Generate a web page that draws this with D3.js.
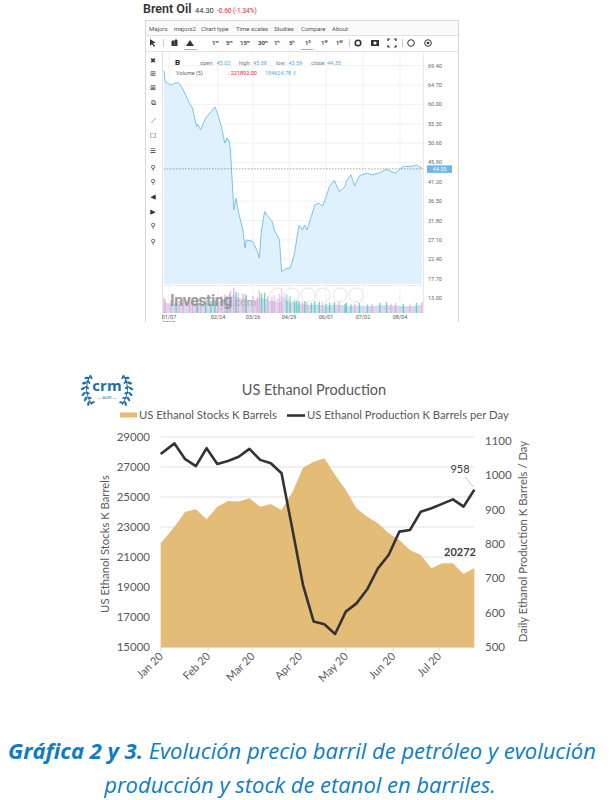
<!DOCTYPE html>
<html>
<head>
<meta charset="utf-8">
<script src="https://cdn.jsdelivr.net/npm/d3@7"></script>
<style>
  body { margin: 0; background: #fff; }
  svg { display: block; }
</style>
</head>
<body>
<svg id="chart" width="611" height="800"></svg>
<script>
// ---- Brent oil (Investing.com screenshot) ----
var brentDates = ["2020-01-02","2020-01-03","2020-01-09","2020-01-14","2020-01-17","2020-01-21","2020-01-27","2020-01-30",
  "2020-02-03","2020-02-04","2020-02-07","2020-02-12","2020-02-17","2020-02-21","2020-02-24","2020-02-27",
  "2020-03-01","2020-03-03","2020-03-05","2020-03-06","2020-03-09","2020-03-11","2020-03-13","2020-03-17","2020-03-19","2020-03-20","2020-03-26","2020-03-30",
  "2020-04-01","2020-04-03","2020-04-06","2020-04-09","2020-04-13","2020-04-15","2020-04-20","2020-04-22","2020-04-27","2020-04-30",
  "2020-05-04","2020-05-06","2020-05-08","2020-05-11","2020-05-13","2020-05-15","2020-05-19","2020-05-22","2020-05-26","2020-05-29",
  "2020-06-01","2020-06-04","2020-06-08","2020-06-12","2020-06-17","2020-06-18","2020-06-22","2020-06-25","2020-06-29",
  "2020-07-06","2020-07-10","2020-07-17","2020-07-23","2020-07-27","2020-07-31",
  "2020-08-07","2020-08-13","2020-08-19","2020-08-24"];
var brentClose = [68.2,65.5,64.7,65.3,65.1,63.5,60.3,59.1,
  54.6,55.2,53.8,56.7,58.2,59.4,57.4,54.6,
  50.6,51.8,50.9,48.9,34.4,37.2,34.0,29.5,25.1,27.1,26.7,24.3,
  22.7,29.5,34.0,32.8,31.6,29.5,27.1,19.4,20.2,20.2,
  23.9,27.5,30.7,29.5,30.7,29.5,32.8,35.6,36.0,35.2,
  37.6,40.1,41.6,38.8,40.1,41.4,42.9,40.2,42.7,
  43.3,42.9,43.4,44.3,43.7,43.3,
  45.0,44.9,45.3,44.5];
// volume, thousands of contracts
var brentVolume = [180,160,150,140,150,170,190,160,
  170,150,160,150,140,150,170,200,
  220,200,230,260,300,250,240,230,220,210,200,180,
  260,230,240,200,190,210,230,290,220,200,
  160,150,140,130,140,130,120,140,130,120,
  110,120,130,140,110,120,100,110,120,
  100,110,120,130,110,120,
  110,100,120,130];
var brentPriceTicks = [69.40,64.70,60.00,55.30,50.60,45.90,41.20,36.50,31.80,27.10,22.40,17.70,13.00];
var brentDateTicks = ["2020-01-07","2020-02-24","2020-03-26","2020-04-29","2020-06-01","2020-07-02","2020-08-04"];
var brentDateLabels = ["01/07","02/24","03/26","04/29","06/01","07/02","08/04"];
var brentLast = 44.35;

// ---- US ethanol (weekly) ----
var ethanolDates = ["2020-01-01","2020-01-10","2020-01-17","2020-01-24","2020-01-31","2020-02-07","2020-02-14","2020-02-21","2020-02-28",
  "2020-03-06","2020-03-13","2020-03-20","2020-03-27","2020-04-03","2020-04-10","2020-04-17","2020-04-24",
  "2020-05-01","2020-05-08","2020-05-15","2020-05-22","2020-05-29","2020-06-05","2020-06-12","2020-06-19","2020-06-26",
  "2020-07-03","2020-07-10","2020-07-17","2020-07-24"];
var ethanolStocks = [21910,23020,24020,24180,23510,24350,24730,24700,24910,
  24350,24530,24130,25300,26950,27350,27580,26470,
  25470,24250,23690,23250,22580,22130,21470,21130,20250,
  20580,20580,19870,20272];
var ethanolProduction = [1062,1093,1047,1027,1079,1033,1042,1054,1077,
  1045,1035,1006,845,681,574,566,538,
  603,627,668,729,768,836,841,894,904,
  917,930,909,958];
var stockTicks = [15000,17000,19000,21000,23000,25000,27000,29000];
var productionTicks = [500,600,700,800,900,1000,1100];
var monthTicks = ["2020-01-01","2020-02-01","2020-03-01","2020-04-01","2020-05-01","2020-06-01","2020-07-01"];

var parse = d3.utcParse("%Y-%m-%d");
var svg = d3.select("#chart");
svg.append("rect").attr("width", 611).attr("height", 800).attr("fill", "#fff");

// =============== Top: Brent oil screenshot ===============
svg.append("defs").append("clipPath").attr("id", "shotclip")
  .append("rect").attr("x", 140).attr("y", 0).attr("width", 322).attr("height", 322);
var shot = svg.append("g").attr("font-family", "Roboto, 'Liberation Sans', sans-serif")
  .attr("clip-path", "url(#shotclip)");

shot.append("text").attr("x", 143).attr("y", 13).attr("font-size", 12.5).attr("font-weight", 600)
  .attr("fill", "#333").text("Brent Oil");
shot.append("text").attr("x", 195).attr("y", 12.5).attr("font-size", 7.5).attr("fill", "#333").text("44.30");
shot.append("text").attr("x", 217).attr("y", 12.5).attr("font-size", 6.5).attr("fill", "#e0262b").text("-0.60 (-1.34%)");

// widget frame
shot.append("rect").attr("x", 145.5).attr("y", 20.5).attr("width", 313).attr("height", 320)
  .attr("fill", "#fff").attr("stroke", "#d8d8d8");
shot.append("rect").attr("x", 146).attr("y", 21).attr("width", 312).attr("height", 14).attr("fill", "#fafafa");
shot.append("line").attr("x1", 146).attr("x2", 458).attr("y1", 35.5).attr("y2", 35.5).attr("stroke", "#e2e2e2");
shot.append("line").attr("x1", 146).attr("x2", 458).attr("y1", 51.5).attr("y2", 51.5).attr("stroke", "#e2e2e2");
shot.append("line").attr("x1", 162.5).attr("x2", 162.5).attr("y1", 52).attr("y2", 340).attr("stroke", "#e2e2e2");

var menu = [["Majors",149],["majors2",174],["Chart type",201],["Time scales",236],["Studies",274],["Compare",301],["About",332]];
shot.selectAll("text.menu").data(menu).enter().append("text").attr("class", "menu")
  .attr("x", d => d[1]).attr("y", 30.5).attr("font-size", 6).attr("fill", "#555").text(d => d[0]);

// toolbar row
var scales = [["1","m",212],["5","m",226],["15","m",240],["30","m",258],["1","h",274],["5","h",289],["1","D",305],["1","W",321],["1","M",336]];
scales.forEach(function (s) {
  var t = shot.append("text").attr("x", s[2]).attr("y", 45).attr("font-size", 6).attr("font-weight", 600).attr("fill", "#333");
  t.append("tspan").text(s[0]);
  t.append("tspan").attr("font-size", 3.5).attr("dy", -2.5).text(s[1]);
});
shot.append("path").attr("d", "M150,39 l0,7 l2,-2 l2,3 l1,-1 l-2,-3 l3,0 z").attr("fill", "#333");
shot.append("line").attr("x1", 163.5).attr("x2", 163.5).attr("y1", 39).attr("y2", 47).attr("stroke", "#ccc");
shot.append("path").attr("d", "M172,46 l0,-5 l2,0 l0,5 M175,46 l0,-6 l2,0 l0,6").attr("stroke", "#333").attr("fill", "#333");
shot.append("path").attr("d", "M186,46 l4,-6 l4,6 z").attr("fill", "#333");
shot.append("line").attr("x1", 184).attr("x2", 197).attr("y1", 49.5).attr("y2", 49.5).attr("stroke", "#f5a623").attr("stroke-width", 1);
shot.append("line").attr("x1", 301).attr("x2", 313).attr("y1", 49.5).attr("y2", 49.5).attr("stroke", "#f5a623").attr("stroke-width", 1);
shot.append("line").attr("x1", 349.5).attr("x2", 349.5).attr("y1", 39).attr("y2", 47).attr("stroke", "#ccc");
shot.append("circle").attr("cx", 358).attr("cy", 43).attr("r", 2.8).attr("fill", "none").attr("stroke", "#333").attr("stroke-width", 1.6);
shot.append("rect").attr("x", 371).attr("y", 40).attr("width", 8).attr("height", 6).attr("fill", "#333");
shot.append("circle").attr("cx", 375).attr("cy", 43).attr("r", 1.6).attr("fill", "#fff");
shot.append("path").attr("d", "M388,41 l0,-2 l2,0 M394,39 l2,0 l0,2 M396,45 l0,2 l-2,0 M390,47 l-2,0 l0,-2")
  .attr("fill", "none").attr("stroke", "#333").attr("stroke-width", 1.2);
shot.append("line").attr("x1", 402.5).attr("x2", 402.5).attr("y1", 39).attr("y2", 47).attr("stroke", "#ccc");
shot.append("circle").attr("cx", 411).attr("cy", 43).attr("r", 3.3).attr("fill", "none").attr("stroke", "#333");
shot.append("circle").attr("cx", 428).attr("cy", 43).attr("r", 3.3).attr("fill", "none").attr("stroke", "#333");
shot.append("circle").attr("cx", 428).attr("cy", 43).attr("r", 1.3).attr("fill", "#333");

// left drawing toolbar
var tools = ["✖","⊞","⊠","⧉","⟋","☐","☰","⚲","⚲","◀","▶","⚲","⚲"];
var toolY = [60,73,87,102,120,135,150,167,181,196,211,225,241];
shot.selectAll("text.tool").data(tools).enter().append("text").attr("class", "tool")
  .attr("x", 153).attr("y", (d, i) => toolY[i] + 3).attr("text-anchor", "middle")
  .attr("font-family", "'DejaVu Sans', sans-serif").attr("font-size", 7).attr("fill", "#333").text(d => d);

// plot scales (trading-day spacing, so the time axis is piecewise)
var xB = d3.scaleUtc()
  .domain(["2020-01-02","2020-01-07","2020-02-24","2020-03-26","2020-04-29","2020-06-01","2020-07-02","2020-08-04","2020-08-24"].map(parse))
  .range([164, 169, 218, 253, 289, 326, 363, 400, 422]);
var yB = d3.scaleLinear().domain([13, 69.4]).range([298, 65.7]);
var yV = d3.scaleLinear().domain([0, 320]).range([313, 286]);

var brent = brentDates.map((d, i) => ({ date: parse(d), close: brentClose[i], vol: brentVolume[i] }));

// grid
shot.selectAll("line.vg").data(brentDateTicks).enter().append("line").attr("class", "vg")
  .attr("x1", d => xB(parse(d))).attr("x2", d => xB(parse(d))).attr("y1", 53).attr("y2", 313)
  .attr("stroke", "#f1f1f1");
shot.selectAll("line.hg").data(brentPriceTicks.filter(v => v > 15)).enter().append("line").attr("class", "hg")
  .attr("x1", 164).attr("x2", 423).attr("y1", d => yB(d)).attr("y2", d => yB(d)).attr("stroke", "#f1f1f1");

shot.append("path").datum(brent)
  .attr("d", d3.area().x(d => xB(d.date)).y0(284).y1(d => yB(d.close)))
  .attr("fill", "#dff1fc");
shot.append("path").datum(brent)
  .attr("d", d3.line().x(d => xB(d.date)).y(d => yB(d.close)))
  .attr("fill", "none").attr("stroke", "#7cc2f0").attr("stroke-width", 1);

// last price dotted line and tag
shot.append("line").attr("x1", 164).attr("x2", 423).attr("y1", yB(brentLast)).attr("y2", yB(brentLast))
  .attr("stroke", "#666").attr("stroke-width", 0.6).attr("stroke-dasharray", "1.5,1.5");
shot.append("rect").attr("x", 427).attr("y", yB(brentLast) - 3.5).attr("width", 25).attr("height", 7.5).attr("fill", "#6db6ee");
shot.append("text").attr("x", 439.5).attr("y", yB(brentLast) + 2).attr("text-anchor", "middle")
  .attr("font-size", 5.5).attr("fill", "#fff").text(brentLast.toFixed(2));

// price axis labels
shot.selectAll("text.pt").data(brentPriceTicks).enter().append("text").attr("class", "pt")
  .attr("x", 428).attr("y", d => yB(d) + 2).attr("font-size", 5.5).attr("fill", "#666").text(d => d.toFixed(2));

// volume panel
shot.append("line").attr("x1", 164).attr("x2", 423).attr("y1", 285.5).attr("y2", 285.5).attr("stroke", "#ececec");
shot.append("path").datum(brent)
  .attr("d", d3.area().curve(d3.curveBasis).x(d => xB(d.date)).y0(313).y1(d => yV(d.vol * 0.75)))
  .attr("fill", "#b8b6ea").attr("opacity", 0.55);
shot.selectAll("rect.vol").data(brent).enter().append("rect").attr("class", "vol")
  .attr("x", d => xB(d.date) - 0.7).attr("width", 1.4)
  .attr("y", d => yV(d.vol)).attr("height", d => 313 - yV(d.vol))
  .attr("fill", (d, i) => i > 0 && d.close >= brent[i - 1].close ? "#45d3b0" : "#e9a6cf")
  .attr("opacity", 0.8);
var wm = shot.append("text").attr("x", 170).attr("y", 306).attr("fill", "#8f8f8f").attr("opacity", 0.85);
wm.append("tspan").attr("font-size", 16).attr("font-weight", 700).attr("letter-spacing", -0.5).text("Investing");
wm.append("tspan").attr("font-size", 11).attr("fill", "#aaa").text(".com");
[277, 292, 308, 323, 340, 356].forEach(function (cx) {
  shot.append("circle").attr("cx", cx).attr("cy", 295).attr("r", 7).attr("fill", "#fff").attr("fill-opacity", 0.3)
    .attr("stroke", "#e6e6e6");
});
shot.append("line").attr("x1", 423.5).attr("x2", 423.5).attr("y1", 53).attr("y2", 313).attr("stroke", "#e8e8e8");

// date labels
shot.selectAll("text.dt").data(brentDateTicks).enter().append("text").attr("class", "dt")
  .attr("x", d => xB(parse(d))).attr("y", 319).attr("text-anchor", "middle")
  .attr("font-size", 5.5).attr("fill", "#555").text((d, i) => brentDateLabels[i]);
shot.append("text").attr("x", 169).attr("y", 324.5).attr("text-anchor", "middle").attr("font-size", 5.5)
  .attr("fill", "#555").text("2020");

// info header inside plot
var info = shot.append("text").attr("y", 64.5).attr("font-size", 5.5).attr("fill", "#777");
info.append("tspan").attr("x", 175).attr("font-size", 8).attr("font-weight", 700).attr("fill", "#222").text("B");
info.append("tspan").attr("x", 200).text("open:");
info.append("tspan").attr("x", 216.5).attr("fill", "#5aa9e6").text("45.03");
info.append("tspan").attr("x", 239).text("high:");
info.append("tspan").attr("x", 253).attr("fill", "#5aa9e6").text("45.08");
info.append("tspan").attr("x", 276).text("low:");
info.append("tspan").attr("x", 288.5).attr("fill", "#5aa9e6").text("43.59");
info.append("tspan").attr("x", 311).text("close:");
info.append("tspan").attr("x", 327).attr("fill", "#5aa9e6").text(brentLast.toFixed(2));
var vinfo = shot.append("text").attr("y", 75).attr("font-size", 5.5).attr("fill", "#666");
vinfo.append("tspan").attr("x", 176).text("Volume (5)");
vinfo.append("tspan").attr("x", 228).attr("fill", "#e0262b").text(": 221892.00");
vinfo.append("tspan").attr("x", 265).attr("fill", "#5aa9e6").text("184624.78");
vinfo.append("tspan").attr("x", 294).attr("fill", "#444").text("|");

// =============== Bottom: US ethanol ===============
var bot = svg.append("g").attr("font-family", "Lato, 'Open Sans', sans-serif");
var xE = d3.scaleUtc().domain([parse(ethanolDates[0]), parse(ethanolDates[ethanolDates.length - 1])]).range([160.7, 474.3]);
var yS = d3.scaleLinear().domain([15000, 29000]).range([647, 437]);
var yP = d3.scaleLinear().domain([500, 1100]).range([647, 441]);
var eth = ethanolDates.map((d, i) => ({ date: parse(d), stock: ethanolStocks[i], prod: ethanolProduction[i] }));

// logo: "crm AGRI" inside a laurel wreath
var logo = bot.append("g").attr("fill", "#1f6ea8");
logo.append("text").attr("x", 107).attr("y", 391).attr("text-anchor", "middle").attr("font-size", 15)
  .attr("font-weight", 700).attr("font-family", "'Open Sans', sans-serif").text("crm");
logo.append("text").attr("x", 107).attr("y", 398.5).attr("text-anchor", "middle").attr("font-size", 4)
  .attr("font-family", "'Open Sans', sans-serif").text("— AGRI —");
[-1, 1].forEach(function (s) {
  var g = logo.append("g").attr("transform", s < 0 ? null : "translate(214,0) scale(-1,1)");
  g.append("path").attr("d", "M90,376 Q82,390 92,405").attr("fill", "none").attr("stroke", "#1f6ea8").attr("stroke-width", 1);
  [[89,378,-60],[86.5,383,-75],[85,388.5,-90],[85.5,394,-105],[87.5,399,-120],[90.5,403.5,-135]].forEach(function (p) {
    g.append("ellipse").attr("cx", p[0] - 2).attr("cy", p[1]).attr("rx", 2.6).attr("ry", 1.2)
      .attr("transform", "rotate(" + (p[2] + 60) + "," + (p[0] - 2) + "," + p[1] + ")");
    g.append("ellipse").attr("cx", p[0] + 2).attr("cy", p[1] - 1).attr("rx", 2.4).attr("ry", 1.1)
      .attr("transform", "rotate(" + (p[2] + 120) + "," + (p[0] + 2) + "," + (p[1] - 1) + ")");
  });
});

bot.append("text").attr("x", 314).attr("y", 395).attr("text-anchor", "middle").attr("font-size", 14.5)
  .attr("fill", "#595959").text("US Ethanol Production");

// legend
bot.append("rect").attr("x", 120).attr("y", 412.5).attr("width", 17).attr("height", 5).attr("fill", "#e3bd78");
bot.append("text").attr("x", 139).attr("y", 419).attr("font-size", 11.3).attr("fill", "#595959").text("US Ethanol Stocks K Barrels");
bot.append("line").attr("x1", 287).attr("x2", 305).attr("y1", 415.5).attr("y2", 415.5).attr("stroke", "#333").attr("stroke-width", 2.6);
bot.append("text").attr("x", 307).attr("y", 419).attr("font-size", 11.3).attr("fill", "#595959").text("US Ethanol Production K Barrels per Day");

// grid
bot.selectAll("line.grid").data(stockTicks.slice(1)).enter().append("line").attr("class", "grid")
  .attr("x1", 160.7).attr("x2", 474.3).attr("y1", d => yS(d)).attr("y2", d => yS(d))
  .attr("stroke", "#d9d9d9").attr("stroke-width", 0.8);

bot.append("path").datum(eth)
  .attr("d", d3.area().x(d => xE(d.date)).y0(yS(15000)).y1(d => yS(d.stock)))
  .attr("fill", "#e3bd78");
bot.append("path").datum(eth)
  .attr("d", d3.line().x(d => xE(d.date)).y(d => yP(d.prod)))
  .attr("fill", "none").attr("stroke", "#333").attr("stroke-width", 2.6).attr("stroke-linejoin", "round");

// x axis
bot.append("line").attr("x1", 160.7).attr("x2", 474.3).attr("y1", 647.5).attr("y2", 647.5).attr("stroke", "#d9d9d9");
var fmt = d3.utcFormat("%b %y");
monthTicks.forEach(function (m) {
  var x = xE(parse(m));
  bot.append("line").attr("x1", x).attr("x2", x).attr("y1", 647).attr("y2", 651).attr("stroke", "#d9d9d9");
  bot.append("text").attr("transform", "translate(" + (x + 3) + ",657) rotate(-45)")
    .attr("text-anchor", "end").attr("font-size", 11).attr("fill", "#595959").text(fmt(parse(m)));
});

// y axes
bot.selectAll("text.ys").data(stockTicks).enter().append("text").attr("class", "ys")
  .attr("x", 150).attr("y", d => yS(d) + 4).attr("text-anchor", "end").attr("font-size", 11.5)
  .attr("fill", "#595959").text(d => d);
bot.selectAll("text.yp").data(productionTicks).enter().append("text").attr("class", "yp")
  .attr("x", 485).attr("y", d => yP(d) + 4).attr("font-size", 11.5)
  .attr("fill", "#595959").text(d => d);
bot.append("text").attr("transform", "translate(109,544) rotate(-90)").attr("text-anchor", "middle")
  .attr("font-size", 11.3).attr("fill", "#595959").text("US Ethanol Stocks K Barrels");
bot.append("text").attr("transform", "translate(527,541.5) rotate(-90)").attr("text-anchor", "middle")
  .attr("font-size", 11.3).attr("fill", "#595959").text("Daily Ethanol Production K Barrels / Day");

// last value labels
var lastE = eth[eth.length - 1];
bot.append("text").attr("x", 460).attr("y", 473).attr("text-anchor", "middle").attr("font-size", 11)
  .attr("fill", "#404040").text(lastE.prod);
bot.append("line").attr("x1", 465).attr("y1", 477).attr("x2", xE(lastE.date) - 1).attr("y2", yP(lastE.prod) - 3)
  .attr("stroke", "#a6a6a6").attr("stroke-width", 0.7);
bot.append("text").attr("x", 460).attr("y", 556).attr("text-anchor", "middle").attr("font-size", 11)
  .attr("font-weight", 700).attr("fill", "#404040").text(lastE.stock);

// =============== Caption ===============
var cap = svg.append("g").attr("font-family", "'Open Sans', sans-serif").attr("font-style", "italic").attr("fill", "#0d7cc2");
var l1 = cap.append("text").attr("x", 302).attr("y", 759).attr("text-anchor", "middle").attr("font-size", 20);
l1.append("tspan").attr("font-weight", 700).text("Gráfica 2 y 3.");
l1.append("tspan").text(" Evolución precio barril de petróleo y evolución");
var fs = 20 * 588 / l1.node().getComputedTextLength();
l1.attr("font-size", fs);
cap.append("text").attr("x", 300).attr("y", 793).attr("text-anchor", "middle").attr("font-size", fs)
  .text("producción y stock de etanol en barriles.");
</script>
</body>
</html>
